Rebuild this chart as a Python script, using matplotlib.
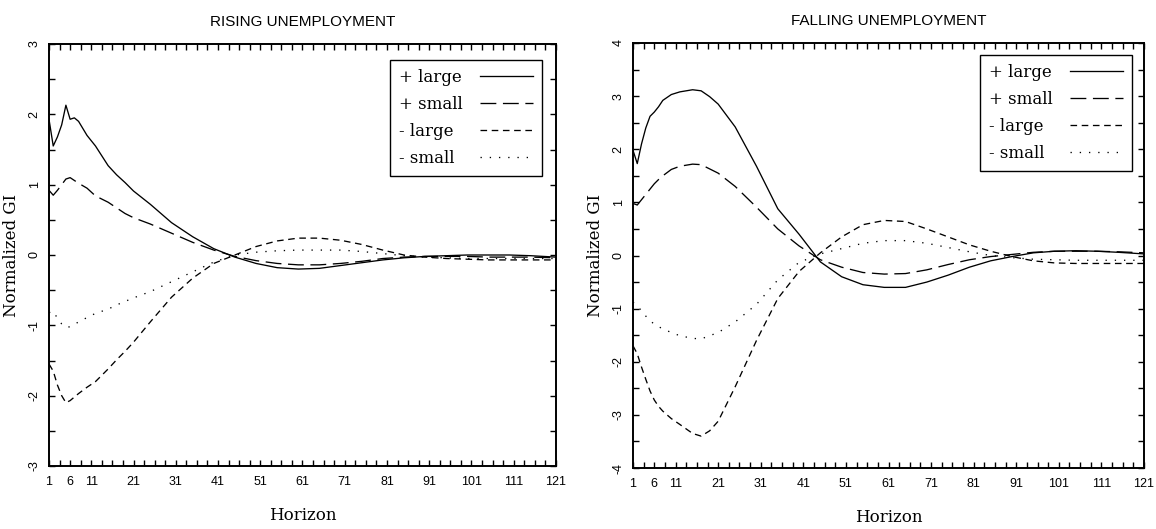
import numpy as np
import matplotlib.pyplot as plt
from matplotlib.ticker import FixedLocator

plt.rcParams['axes.unicode_minus'] = False

horizon = [1, 2, 3, 4, 5, 6, 7, 8, 10, 12, 15, 17, 19, 21, 25, 30, 35, 40, 45,
           50, 55, 60, 65, 70, 75, 80, 85, 90, 95, 100, 105, 110, 115, 121]

# RISING UNEMPLOYMENT
rise_pos_large = [1.93, 1.55, 1.68, 1.85, 2.13, 1.93, 1.95, 1.90, 1.70, 1.55, 1.27, 1.14,
                  1.03, 0.91, 0.72, 0.46, 0.26, 0.09, -0.03, -0.12, -0.18, -0.20, -0.19,
                  -0.15, -0.11, -0.07, -0.04, -0.02, -0.01, 0.0, 0.0, 0.0, -0.01, -0.03]
rise_pos_small = [0.92, 0.85, 0.92, 1.00, 1.08, 1.10, 1.06, 1.02, 0.95, 0.84, 0.75, 0.67,
                  0.59, 0.53, 0.44, 0.31, 0.18, 0.07, -0.02, -0.08, -0.12, -0.14, -0.14,
                  -0.12, -0.09, -0.05, -0.03, -0.02, -0.02, -0.02, -0.03, -0.03, -0.03, -0.04]
rise_neg_large = [-1.55, -1.65, -1.85, -2.00, -2.10, -2.07, -2.02, -1.97, -1.88, -1.80,
                  -1.62, -1.49, -1.37, -1.24, -0.95, -0.60, -0.33, -0.12, 0.0, 0.12, 0.20,
                  0.24, 0.24, 0.21, 0.15, 0.07, 0.0, -0.03, -0.05, -0.06, -0.07, -0.07,
                  -0.07, -0.07]
rise_neg_small = [-0.82, -0.80, -0.90, -0.98, -1.03, -1.02, -0.99, -0.95, -0.89, -0.83,
                  -0.77, -0.71, -0.66, -0.61, -0.52, -0.38, -0.24, -0.10, 0.0, 0.04, 0.06,
                  0.07, 0.07, 0.07, 0.05, 0.02, -0.01, -0.03, -0.04, -0.05, -0.05, -0.05,
                  -0.05, -0.05]

# FALLING UNEMPLOYMENT
fall_pos_large = [1.98, 1.73, 2.10, 2.40, 2.62, 2.70, 2.80, 2.92, 3.03, 3.08, 3.12, 3.10,
                  2.99, 2.85, 2.42, 1.68, 0.88, 0.40, -0.12, -0.40, -0.55, -0.60, -0.60,
                  -0.50, -0.37, -0.22, -0.10, -0.02, 0.05, 0.08, 0.09, 0.08, 0.06, 0.03]
fall_pos_small = [0.98, 0.95, 1.05, 1.15, 1.25, 1.35, 1.43, 1.50, 1.62, 1.68, 1.72, 1.71,
                  1.63, 1.55, 1.30, 0.91, 0.50, 0.18, -0.08, -0.22, -0.32, -0.35, -0.34,
                  -0.27, -0.17, -0.08, -0.02, 0.02, 0.06, 0.08, 0.08, 0.08, 0.07, 0.05]
fall_neg_large = [-1.70, -1.85, -2.10, -2.33, -2.55, -2.72, -2.84, -2.93, -3.07, -3.18,
                  -3.35, -3.40, -3.30, -3.12, -2.47, -1.60, -0.81, -0.30, 0.05, 0.35, 0.58,
                  0.66, 0.64, 0.50, 0.35, 0.20, 0.08, -0.02, -0.10, -0.14, -0.15, -0.15,
                  -0.15, -0.15]
fall_neg_small = [-0.88, -0.95, -1.04, -1.14, -1.23, -1.29, -1.34, -1.38, -1.45, -1.51,
                  -1.56, -1.57, -1.51, -1.45, -1.25, -0.92, -0.46, -0.13, 0.03, 0.13, 0.23,
                  0.28, 0.28, 0.23, 0.15, 0.07, 0.0, -0.04, -0.07, -0.08, -0.09, -0.09,
                  -0.09, -0.09]

labels = ['+ large', '+ small', '- large', '- small']
styles = ['-', (0, (12, 5)), (0, (5, 3.5)), (0, (1, 6))]
xticks = [1, 6, 11, 21, 31, 41, 51, 61, 71, 81, 91, 101, 111, 121]

serif = 'DejaVu Serif'
sans = 'Liberation Sans'

fig = plt.figure(figsize=(11.56, 5.29), dpi=100)
ax1 = fig.add_axes([49 / 1156, 1 - 466 / 529, 507 / 1156, 422 / 529])
ax2 = fig.add_axes([633 / 1156, 1 - 468 / 529, 511 / 1156, 425 / 529])

panels = [
    (ax1, 'RISING UNEMPLOYMENT', [rise_pos_large, rise_pos_small, rise_neg_large, rise_neg_small], 3,
     (542 / 1156, 1 - 60 / 529)),
    (ax2, 'FALLING UNEMPLOYMENT', [fall_pos_large, fall_pos_small, fall_neg_large, fall_neg_small], 4,
     (1132 / 1156, 1 - 55 / 529)),
]

legends = []
for ax, title, series, lim, anchor in panels:
    for vals, lab, ls in zip(series, labels, styles):
        ax.plot(horizon, vals, color='black', lw=0.95, linestyle=ls, label=lab)

    ax.set_xlim(1, 121)
    ax.set_ylim(-lim, lim)
    ax.set_xticks(xticks)
    ax.xaxis.set_minor_locator(FixedLocator(np.arange(1, 122, 2.5)))
    ax.set_yticks(np.arange(-lim, lim + 1, 1))
    ax.yaxis.set_minor_locator(FixedLocator(np.arange(-lim, lim + 0.1, 0.5)))
    ax.tick_params(which='both', direction='in', top=True, right=True,
                   length=4, width=1, color='black')
    ax.tick_params(axis='x', pad=7)
    ax.tick_params(axis='y', pad=6)
    for t in ax.get_xticklabels():
        t.set_fontfamily(sans)
        t.set_fontsize(9)
    for t in ax.get_yticklabels():
        t.set_fontfamily(sans)
        t.set_fontsize(9)
        t.set_rotation(90)
        t.set_va('center')
    for sp in ax.spines.values():
        sp.set_linewidth(1.4)

    ax.set_title(title, family=sans, fontsize=11, pad=13)
    ax.set_xlabel('Horizon', family=serif, fontsize=12, labelpad=14)
    ax.set_ylabel('Normalized GI', family=serif, fontsize=12, labelpad=6)

    leg = ax.legend(loc='upper right', bbox_to_anchor=anchor, bbox_transform=fig.transFigure,
                    markerfirst=False, handlelength=3.2, handletextpad=1.0,
                    labelspacing=0.6, borderpad=0.55, borderaxespad=0,
                    fancybox=False, framealpha=1, edgecolor='black',
                    prop={'family': serif, 'size': 12})
    leg.get_frame().set_linewidth(1.0)
    legends.append(leg)

# left-align legend labels: widen the gap before each handle so all rows are equally wide
fig.canvas.draw()
renderer = fig.canvas.get_renderer()
for leg in legends:
    rows = leg._legend_handle_box.get_children()[0].get_children()
    widths = [t.get_window_extent(renderer).width for t in leg.get_texts()]
    for row, w in zip(rows, widths):
        row.sep += (max(widths) - w) * 72 / fig.dpi

fig.savefig('out.png', dpi=100)
